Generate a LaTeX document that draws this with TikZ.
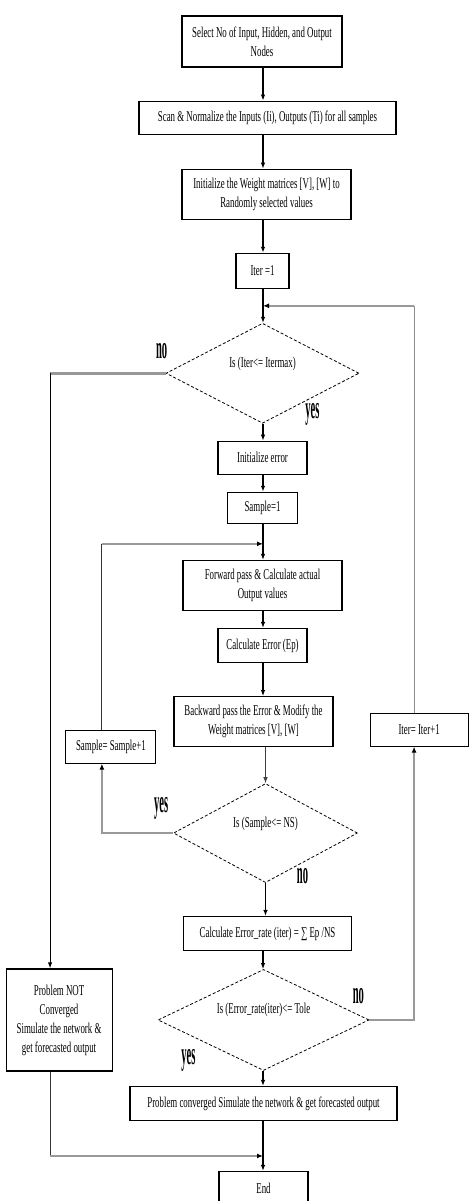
\documentclass[tikz,border=0pt]{standalone}
\usepackage{fontspec}
\setmainfont{Liberation Serif}[FakeStretch=0.59]
\newfontfamily\tallfont{Liberation Serif}[FakeStretch=0.33]
\usepackage{tikz}
\usetikzlibrary{shapes.geometric,positioning,arrows.meta}

\tikzset{
  blk/.style={draw, rectangle, line width=1.1pt, align=center, inner sep=1pt,
    font=\fontsize{15}{19}\selectfont},
  dec/.style={draw, diamond, aspect=2, densely dashed, line width=0.8pt, inner sep=0pt,
    align=center, text height=9pt, text depth=21pt, font=\fontsize{15}{19}\selectfont},
  lbl/.style={font=\tallfont\fontsize{32}{32}\selectfont\bfseries},
  go/.style={-{Latex[length=6pt,width=4.5pt]}, line width=1.1pt},
  tip/.style={-{Latex[black,length=6pt,width=5pt]}},
  back/.style={draw=gray!80, line width=2.6pt},
  up/.style={draw=black!80, line width=0.9pt}
}

\begin{document}
\begin{tikzpicture}[x=1pt, y=1pt, node distance=17pt]
  \useasboundingbox (0,0) rectangle (474,-1201);
  \coordinate (col) at (263,0);

  % main column
  \node[blk, minimum width=160pt, minimum height=51pt] (sel) at (262,-41.5) {Select No of Input, Hidden, and Output\\Nodes};
  \node[blk, minimum width=257pt, minimum height=33pt] (scan) [below=33pt of sel, xshift=5.5pt] {Scan \& Normalize the Inputs (Ii), Outputs (Ti) for all samples};
  \node[blk, minimum width=169pt, minimum height=50pt] (init) [below=34pt of scan, xshift=-1pt] {Initialize the Weight matrices [V], [W] to\\Randomly selected values};
  \node[blk, minimum width=53pt, minimum height=35pt] (it1) [below=33pt of init, xshift=-4pt] {Iter =1};
  \node[dec, minimum width=193pt, minimum height=100pt] (dia1) [below=34pt of it1] {Is (Iter<= Itermax)};
  \node[blk, minimum width=89pt, minimum height=33pt] (ierr) [below=of dia1] {Initialize error};
  \node[blk, minimum width=70pt, minimum height=31pt] (s1) [below=of ierr] {Sample=1};
  \node[blk, minimum width=159pt, minimum height=50pt] (fwd) [below=36pt of s1] {Forward pass \& Calculate actual\\Output values};
  \node[blk, minimum width=89pt, minimum height=34pt] (cerr) [below=of fwd] {Calculate Error (Ep)};
  \node[blk, minimum width=159pt, minimum height=50pt] (bwd) [below=33pt of cerr, xshift=-9pt] {Backward pass the Error \& Modify the\\Weight matrices [V], [W]};
  \node[dec, minimum width=184pt, minimum height=99pt] (dia2) [below=36pt of bwd, xshift=12pt] {Is (Sample<= NS)};
  \node[blk, minimum width=168pt, minimum height=34pt] (erate) [below=33pt of dia2, xshift=2pt] {Calculate Error\_rate (iter) = ∑ Ep /NS};
  \node[dec, minimum width=211pt, minimum height=101pt] (dia3) [below=18pt of erate, xshift=-4pt] {Is (Error\_rate(iter)<= Tole};
  \node[blk, minimum width=267pt, minimum height=34pt] (conv) [below=15pt of dia3] {Problem converged Simulate the network \& get forecasted output};
  \node[blk, minimum width=89pt, minimum height=34pt] (end) [below=50pt of conv] {End};

  % side boxes
  \node[blk, minimum width=98pt, minimum height=33pt] (inc) [right=36pt of bwd, yshift=-8pt] {Iter= Iter+1};
  \node[blk, minimum width=90pt, minimum height=33pt] (sinc) [left=17pt of bwd, yshift=-25pt] {Sample= Sample+1};
  \node[blk, minimum width=106pt, minimum height=102pt] (nc) [left=45pt of dia3] {Problem NOT\\Converged\\Simulate the network \&\\get forecasted output};

  % yes / no
  \node[lbl] (no1) at ([shift={(-4,22)}]dia1.west) {no};
  \node[lbl] (yes1) at ([shift={(50,9)}]dia1.south) {yes};
  \node[lbl] (yes2) at ([shift={(-12,25)}]dia2.west) {yes};
  \node[lbl] (no2) at ([shift={(37,7)}]dia2.south) {no};
  \node[lbl] (no3) at ([shift={(-11,24)}]dia3.east) {no};
  \node[lbl] (yes3) at ([shift={(-75,10)}]dia3.south) {yes};

  \path[go]
    (col |- sel.south) edge (col |- scan.north)
    (col |- scan.south) edge (col |- init.north)
    (col |- init.south) edge (col |- it1.north)
    (col |- it1.south) edge (col |- dia1.north)
    (col |- dia1.south) edge (col |- ierr.north)
    (col |- ierr.south) edge (col |- s1.north)
    (col |- s1.south) edge (col |- fwd.north)
    (col |- fwd.south) edge (col |- cerr.north)
    (col |- cerr.south) edge (col |- bwd.north)
    (dia2.south) edge (dia2.south |- erate.north)
    (col |- erate.south) edge (col |- dia3.north)
    (col |- dia3.south) edge (col |- conv.north)
    (col |- conv.south) edge (col |- end.north);
  \draw[go, draw=black!75, line width=0.8pt] (dia2.north |- bwd.south) -- (dia2.north);

  % loop backs
  \coordinate[below=17pt of it1] (j1);
  \coordinate[below=20pt of s1] (j2);
  \coordinate[below=35pt of conv] (j3);
  \coordinate (rx) at ([xshift=-5pt]inc.south);
  \coordinate (sx) at ([xshift=-9pt]sinc.south);
  \coordinate (nx) at ([xshift=-9pt]nc.north);

  \draw[back, tip] (dia3.east) -| (rx);
  \draw[up, draw=gray!90] (rx |- inc.north) -- (rx |- j1);
  \draw[back, tip] (rx |- j1) -- (col |- j1);

  \draw[back, tip] (dia2.west) -| (sx);
  \draw[up] (sx |- sinc.north) -- (sx |- j2);
  \draw[back, tip] (sx |- j2) -- (col |- j2);

  \draw[back] (dia1.west) -- (nx |- dia1.west);
  \draw[go] (nx |- dia1.west) -- (nx);
  \draw[up] (nx |- nc.south) -- (nx |- j3);
  \draw[back, tip] (nx |- j3) -- (col |- j3);
\end{tikzpicture}
\end{document}
